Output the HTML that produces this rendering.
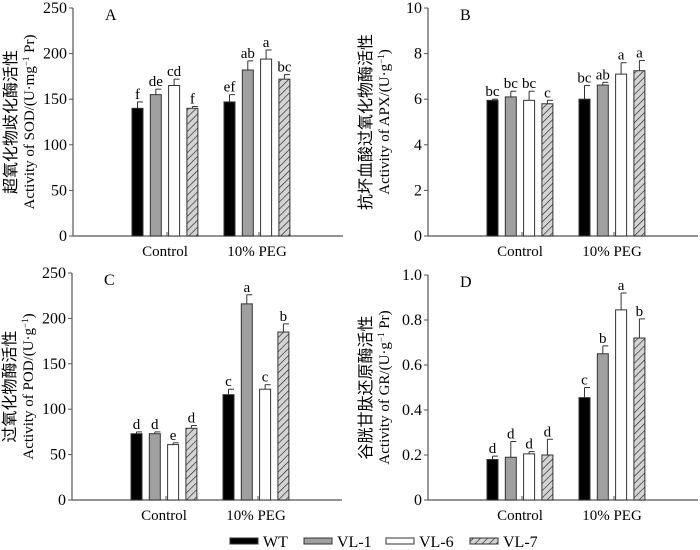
<!DOCTYPE html>
<html><head><meta charset="utf-8"><style>
body{margin:0;background:#fff}
svg{display:block;font-family:"Liberation Serif","Noto Serif CJK SC",serif}
</style></head><body>
<svg id="c" width="700" height="550" xmlns="http://www.w3.org/2000/svg">
<defs><pattern id="hatch" patternUnits="userSpaceOnUse" width="5" height="5" patternTransform="rotate(45)"><rect width="5" height="5" fill="#d4d4d4"/><line x1="0" y1="0" x2="0" y2="5" stroke="#222" stroke-width="1.3"/></pattern></defs>
</svg>
<script>
const categories=["Control","10% PEG"];
const seriesNames=["WT","VL-1","VL-6","VL-7"];
const aVals=[[140,155,165,140],[147,182,194,172]];
const aErr=[[7,6,7,2],[8,10,10,5]];
const aLet=[["f","de","cd","f"],["ef","ab","a","bc"]];
const bVals=[[5.95,6.1,5.95,5.8],[6.0,6.62,7.1,7.25]];
const bErr=[[0.05,0.25,0.4,0.15],[0.6,0.12,0.5,0.45]];
const bLet=[["bc","bc","bc","c"],["bc","ab","a","a"]];
const cVals=[[73,73,61,79],[116,216,122,185]];
const cErr=[[2,2,2,3],[6,10,5,9]];
const cLet=[["d","d","e","d"],["c","a","c","b"]];
const dVals=[[0.18,0.19,0.205,0.2],[0.455,0.65,0.845,0.72]];
const dErr=[[0.015,0.07,0.01,0.07],[0.045,0.035,0.075,0.085]];
const dLet=[["d","d","d","d"],["c","b","a","b"]];
const aTicks=["0","50","100","150","200","250"];
const bTicks=["0","2","4","6","8","10"];
const dTicks=["0","0.2","0.4","0.6","0.8","1.0"];
const fills=["#000","#a0a0a0","#fff","url(#hatch)"];
const svg=document.getElementById('c');
const NS="http://www.w3.org/2000/svg";
function mk(tag,attrs,parent,txt){const e=document.createElementNS(NS,tag);for(const k in attrs)e.setAttribute(k,attrs[k]);if(txt!==undefined)e.textContent=txt;(parent||svg).appendChild(e);return e;}
function panel(key,x0,y0,yTop,ymax,ticks,vals,errs,lets,cn,en,sup,enTail){
  const g=mk('g',{});
  
  
  const y=v=>y0-(v/ymax)*(y0-yTop);
  const x=(gi,si)=>x0+59+gi*92+si*18.3;
  mk('line',{x1:x0,y1:yTop,x2:x0,y2:y0,stroke:'#555','stroke-width':1.2},g);
  mk('line',{x1:x0,y1:y0,x2:x0+270,y2:y0,stroke:'#555','stroke-width':1.2},g);
  ticks.forEach((t,i)=>{const v=ymax*i/(ticks.length-1);const yy=y(v);
    mk('line',{x1:x0-4,y1:yy,x2:x0,y2:yy,stroke:'#555','stroke-width':1},g);
    const tl=mk('text',{x:x0-6,y:yy+5,'text-anchor':'end','font-size':16},g,t);
    });
  categories.forEach((c,gi)=>{const cx=x0+59+gi*92+27.5+5.5;
    mk('line',{x1:x0+94+gi*92,y1:y0,x2:x0+94+gi*92,y2:y0-4,stroke:'#555'},g);
    const cl=mk('text',{x:cx,y:y0+20,'text-anchor':'middle','font-size':15},g,c);
    
    vals[gi].forEach((v,si)=>{const bx=x(gi,si);
      const r=mk('rect',{x:bx,y:y(v),width:11,height:y0-y(v),fill:fills[si],stroke:'#333','stroke-width':1},g);
      
      const ye=y(v+errs[gi][si]);
      mk('line',{x1:bx+5.5,y1:y(v),x2:bx+5.5,y2:ye,stroke:'#333','stroke-width':1},g);
      mk('line',{x1:bx+5.5,y1:ye,x2:bx+11,y2:ye,stroke:'#333','stroke-width':1},g);
      const lt=mk('text',{x:bx+5.5,y:ye-3,'text-anchor':'middle','font-size':15},g,lets[gi][si]);
      });
  });
  const pl=mk('text',{x:x0+32,y:yTop+12,'font-size':16},g,key);
  
  const my=(yTop+y0)/2;
  const cx1=x0-57, cx2=x0-39;
  const t1=mk('text',{x:cx1,y:my,'text-anchor':'middle','font-size':16,transform:`rotate(-90 ${cx1} ${my})`,'font-family':'"Noto Sans CJK SC",sans-serif'},g,cn);
  
  const t2=mk('text',{x:cx2,y:my,'text-anchor':'middle','font-size':15,transform:`rotate(-90 ${cx2} ${my})`},g);
  
  mk('tspan',{},t2,en);mk('tspan',{'font-size':9,dy:-5},t2,sup);mk('tspan',{dy:5},t2,enTail);
}
panel('A',73,236,8,250,aTicks,aVals,aErr,aLet,'超氧化物歧化酶活性','Activity of SOD/(U·mg','−1',' Pr)');
panel('B',428,236,8,10,bTicks,bVals,bErr,bLet,'抗坏血酸过氧化物酶活性','Activity of APX/(U·g','−1',')');
panel('C',72,500,273,250,aTicks,cVals,cErr,cLet,'过氧化物酶活性','Activity of POD/(U·g','−1',')');
panel('D',428,500,275,1,dTicks,dVals,dErr,dLet,'谷胱甘肽还原酶活性','Activity of GR/(U·g','−1',' Pr)');
const lx=[230,304,386,470];
seriesNames.forEach((n,i)=>{const lg=mk('g',{});
  
  
  mk('rect',{x:lx[i],y:538,width:28,height:6,fill:fills[i],stroke:'#333','stroke-width':1},lg);
  mk('text',{x:lx[i]+33,y:547,'font-size':16},lg,n);});
</script>
</body></html>
